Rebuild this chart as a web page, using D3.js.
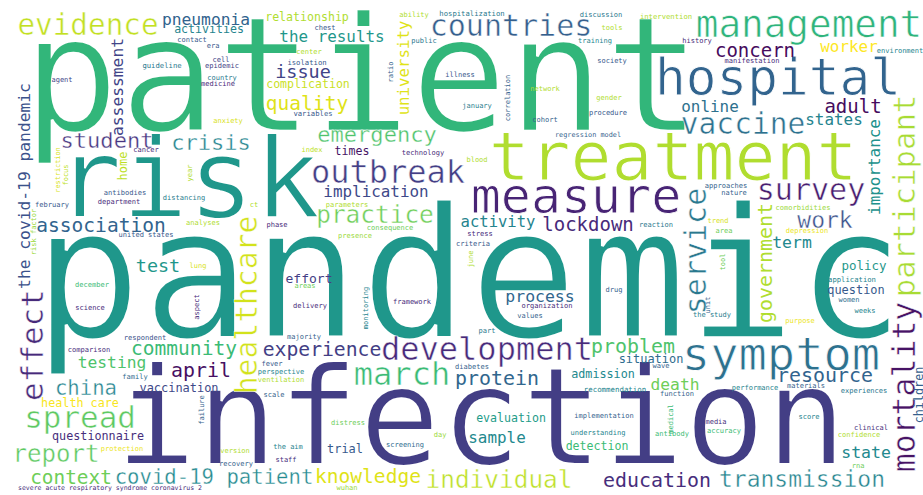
<!DOCTYPE html>
<html>
<head>
<meta charset="utf-8">
<script src="https://cdn.jsdelivr.net/npm/d3@7"></script>
<style>
  body { margin: 0; background: #fff; }
  svg { display: block; }
  text.word { font-family: "DejaVu Sans Mono", monospace; }
</style>
</head>
<body>
<svg id="cloud"></svg>
<script>
// words, in order of frequency (same order in every array below)
const words = [
  "patient", "pandemic", "infection", "risk", "treatment", "measure", "hospital", "symptom", "management", "development",
  "outbreak", "march", "mortality", "spread", "effect", "participant", "countries", "survey", "service", "healthcare",
  "vaccine", "evidence", "practice", "individual", "report", "transmission", "work", "emergency", "student", "crisis",
  "covid-19 patient", "china", "education", "protein", "problem", "resource", "april", "government", "experience", "community",
  "association", "quality", "knowledge", "context", "concern", "lockdown", "adult", "issue", "test", "term",
  "state", "process", "pneumonia", "death", "testing", "the covid-19 pandemic", "assessment", "worker", "online", "states",
  "implication", "the results", "importance", "sample", "university", "activity", "effort", "policy", "question", "vaccination",
  "trial", "situation", "home", "health care", "questionnaire", "admission", "children", "relationship", "complication", "evaluation",
  "times", "activities", "detection", "contact", "era", "center", "isolation", "guideline", "cell", "epidemic",
  "agent", "country", "medicine", "variables", "anxiety", "cancer", "index", "restriction", "focus", "ability",
  "hospitalization", "discussion", "tools", "training", "society", "gender", "procedure", "regression model", "chest", "public",
  "ratio", "illness", "correlation", "network", "january", "cohort", "technology", "blood", "intervention", "history",
  "environment", "manifestation", "antibodies", "department", "february", "distancing", "year", "ct", "analyses", "phase",
  "united states", "risk factor", "lung", "areas", "december", "science", "aspect", "delivery", "parameters", "consequence",
  "presence", "stress", "criteria", "june", "comorbidities", "approaches", "nature", "trend", "reaction", "area",
  "depression", "tool", "application", "women", "weeks", "purpose", "the study", "unit", "drug", "organization",
  "values", "part", "framework", "monitoring", "majority", "respondent", "comparison", "family", "fever", "perspective",
  "ventilation", "scale", "failure", "protection", "the aim", "version", "staff", "recovery", "severe acute respiratory syndrome coronavirus 2", "diabetes",
  "distress", "day", "screening", "wuhan", "wave", "recommendation", "implementation", "understanding", "performance", "materials",
  "experiences", "function", "medical", "score", "media", "accuracy", "antibody", "clinical", "confidence", "rna"
];

// relative frequency (1 = most frequent word)
const weights = [
  0.890, 1.000, 0.746, 0.608, 0.376, 0.276, 0.282, 0.260, 0.208, 0.177,
  0.177, 0.177, 0.174, 0.171, 0.171, 0.169, 0.166, 0.166, 0.166, 0.164,
  0.163, 0.162, 0.135, 0.135, 0.133, 0.127, 0.127, 0.122, 0.122, 0.122,
  0.114, 0.114, 0.110, 0.110, 0.110, 0.110, 0.110, 0.110, 0.109, 0.108,
  0.108, 0.108, 0.108, 0.107, 0.105, 0.105, 0.105, 0.102, 0.102, 0.091,
  0.091, 0.091, 0.090, 0.090, 0.090, 0.090, 0.090, 0.088, 0.088, 0.088,
  0.088, 0.088, 0.088, 0.088, 0.087, 0.086, 0.072, 0.069, 0.066, 0.066,
  0.066, 0.066, 0.066, 0.065, 0.065, 0.065, 0.065, 0.064, 0.064, 0.064,
  0.064, 0.064, 0.064, 0.039, 0.039, 0.039, 0.040, 0.040, 0.039, 0.039,
  0.039, 0.039, 0.039, 0.040, 0.039, 0.039, 0.039, 0.038, 0.039, 0.039,
  0.040, 0.039, 0.039, 0.039, 0.039, 0.039, 0.039, 0.038, 0.039, 0.039,
  0.039, 0.039, 0.039, 0.039, 0.039, 0.039, 0.039, 0.039, 0.040, 0.039,
  0.039, 0.039, 0.039, 0.039, 0.039, 0.039, 0.039, 0.039, 0.039, 0.039,
  0.039, 0.039, 0.039, 0.039, 0.039, 0.039, 0.039, 0.039, 0.039, 0.039,
  0.039, 0.039, 0.039, 0.039, 0.039, 0.039, 0.039, 0.039, 0.039, 0.039,
  0.039, 0.039, 0.040, 0.039, 0.039, 0.039, 0.039, 0.039, 0.039, 0.039,
  0.039, 0.039, 0.039, 0.039, 0.039, 0.039, 0.039, 0.039, 0.039, 0.039,
  0.039, 0.039, 0.039, 0.039, 0.039, 0.039, 0.039, 0.039, 0.036, 0.039,
  0.039, 0.039, 0.039, 0.039, 0.039, 0.041, 0.039, 0.039, 0.039, 0.039,
  0.039, 0.039, 0.039, 0.039, 0.039, 0.039, 0.039, 0.039, 0.039, 0.039
];

// position on the viridis colormap
const tones = [
  0.66, 0.53, 0.18, 0.53, 0.88, 0.10, 0.32, 0.37, 0.65, 0.12,
  0.18, 0.68, 0.05, 0.75, 0.12, 0.87, 0.30, 0.08, 0.40, 0.93,
  0.37, 0.91, 0.78, 0.90, 0.75, 0.45, 0.25, 0.72, 0.15, 0.45,
  0.47, 0.45, 0.13, 0.33, 0.72, 0.32, 0.04, 0.88, 0.18, 0.68,
  0.32, 0.95, 0.95, 0.78, 0.03, 0.12, 0.03, 0.20, 0.53, 0.47,
  0.47, 0.33, 0.32, 0.78, 0.72, 0.25, 0.20, 1.00, 0.37, 0.45,
  0.22, 0.53, 0.50, 0.47, 0.95, 0.45, 0.18, 0.53, 0.28, 0.22,
  0.28, 0.35, 0.90, 0.99, 0.13, 0.47, 0.30, 0.88, 0.92, 0.55,
  0.05, 0.45, 0.68, 0.27, 0.27, 0.88, 0.27, 0.40, 0.20, 0.18,
  0.20, 0.40, 0.12, 0.27, 0.94, 0.12, 0.90, 0.94, 0.90, 0.88,
  0.40, 0.40, 0.88, 0.45, 0.27, 0.88, 0.27, 0.30, 0.27, 0.40,
  0.30, 0.27, 0.30, 0.88, 0.42, 0.30, 0.12, 0.88, 0.88, 0.12,
  0.45, 0.12, 0.27, 0.12, 0.27, 0.42, 0.88, 0.88, 0.88, 0.12,
  0.27, 0.85, 0.94, 0.78, 0.68, 0.12, 0.12, 0.12, 0.88, 0.78,
  0.85, 0.12, 0.27, 0.88, 0.85, 0.30, 0.30, 0.94, 0.40, 0.78,
  0.97, 0.78, 0.45, 0.35, 0.45, 0.97, 0.42, 0.30, 0.30, 0.12,
  0.30, 0.40, 0.12, 0.45, 0.30, 0.25, 0.13, 0.35, 0.28, 0.45,
  0.88, 0.30, 0.30, 0.97, 0.45, 0.88, 0.13, 0.30, 0.12, 0.30,
  0.78, 0.85, 0.35, 0.85, 0.30, 0.45, 0.30, 0.45, 0.45, 0.30,
  0.40, 0.30, 0.68, 0.45, 0.13, 0.68, 0.68, 0.13, 0.88, 0.78
];

// layout from the cloud: [x, y, vertical] on the 923 x 495 canvas
// horizontal words: x = centre, y = baseline; vertical words: x = baseline, y = centre
const place = [
  [362,131,0],[469,337,0],[481,464,0],[188,217,0],[673,180,0],[576,213,0],[778,95,0],[781,370,0],[809,37,0],[487,360,0],
  [388,183,0],[402,385,0],[915,387,1],[80,428,0],[43,345,1],[915,196,1],[511,36,0],[811,200,0],[706,251,1],[257,305,1],
  [743,134,0],[88,35,0],[375,223,0],[499,488,0],[56,462,0],[802,487,0],[825,228,0],[377,142,0],[107,148,0],[211,150,0],
  [214,484,0],[86,395,0],[657,487,0],[497,385,0],[633,353,0],[825,382,0],[201,377,0],[772,263,1],[322,356,0],[184,355,0],
  [101,232,0],[307,110,0],[368,483,0],[71,484,0],[755,57,0],[588,231,0],[853,113,0],[303,78,0],[158,272,0],[792,248,0],
  [866,458,0],[540,302,0],[206,25,0],[675,390,0],[112,368,0],[30,186,1],[123,87,1],[849,52,0],[710,112,0],[834,125,0],
  [376,197,0],[332,42,0],[880,167,1],[497,443,0],[409,68,1],[498,227,0],[309,283,0],[864,270,0],[856,294,0],[179,392,0],
  [345,453,0],[651,363,0],[127,166,1],[80,407,0],[98,440,0],[603,378,0],[923,395,1],[307,21,0],[308,88,0],[511,422,0],
  [352,155,0],[209,33,0],[597,450,0],[192,42,0],[213,48,0],[309,54,0],[307,65,0],[162,68,0],[221,62,0],[222,68,0],
  [62,82,0],[222,80,0],[218,86,0],[313,116,0],[228,123,0],[146,152,0],[312,152,0],[60,170,1],[68,175,1],[414,17,0],
  [472,16,0],[601,17,0],[612,30,0],[595,43,0],[612,63,0],[609,100,0],[608,115,0],[588,137,0],[325,30,0],[424,43,0],
  [393,72,1],[460,77,0],[510,98,1],[545,91,0],[477,108,0],[545,122,0],[423,155,0],[477,162,0],[666,19,0],[697,43,0],
  [900,53,0],[752,63,0],[125,195,0],[119,204,0],[52,207,0],[184,200,0],[192,173,1],[254,207,0],[203,225,0],[277,227,0],
  [146,237,0],[36,232,1],[198,268,0],[305,288,0],[92,287,0],[90,310,0],[199,307,1],[310,308,0],[347,207,0],[390,230,0],
  [355,238,0],[480,236,0],[473,246,0],[473,259,1],[803,210,0],[726,188,0],[734,195,0],[718,223,0],[656,227,0],[724,233,0],
  [807,233,0],[725,262,1],[852,282,0],[849,302,0],[865,313,0],[800,323,0],[712,317,0],[710,305,1],[614,292,0],[547,308,0],
  [530,318,0],[487,333,0],[412,304,0],[368,308,1],[304,339,0],[145,340,0],[89,352,0],[135,379,0],[272,366,0],[281,374,0],
  [281,382,0],[274,397,0],[204,410,1],[122,451,0],[288,449,0],[235,453,0],[286,462,0],[236,466,0],[110,490,0],[472,369,0],
  [348,425,0],[440,437,0],[405,447,0],[347,490,0],[661,368,0],[615,392,0],[604,418,0],[598,435,0],[755,390,0],[806,388,0],
  [864,393,0],[677,396,0],[673,419,1],[809,419,0],[716,424,0],[724,433,0],[672,436,0],[871,430,0],[859,437,0],[858,468,0]
];

const width = 923, height = 495;

const svg = d3.select('#cloud')
  .attr('width', width)
  .attr('height', height);

svg.append('rect')
  .attr('width', width)
  .attr('height', height)
  .style('fill', '#fff');

const x = d3.scaleLinear().domain([0, 923]).range([0, width]);
const y = d3.scaleLinear().domain([0, 495]).range([0, height]);
const size = d3.scaleLinear().domain([0, 1]).range([0, 181]);
const color = d3.scaleSequential(d3.interpolateViridis).domain([0, 1]);

const cloud = words.map((w, i) => ({
  text: w,
  weight: weights[i],
  tone: tones[i],
  px: place[i][0],
  py: place[i][1],
  vertical: place[i][2] === 1
}));

// a thin white outline lightens the big glyphs a little, closer to the original font;
// small words are left alone so they stay readable
svg.selectAll('text.word')
  .data(cloud)
  .enter()
  .append('text')
  .classed('word', true)
  .attr('text-anchor', 'middle')
  .attr('transform', d => `translate(${x(d.px)},${y(d.py)})` + (d.vertical ? ' rotate(-90)' : ''))
  .style('font-size', d => size(d.weight) + 'px')
  .style('fill', d => color(d.tone))
  .style('stroke', d => size(d.weight) >= 20 ? '#fff' : 'none')
  .style('stroke-width', d => size(d.weight) * 0.016)
  .text(d => d.text);
</script>
</body>
</html>
